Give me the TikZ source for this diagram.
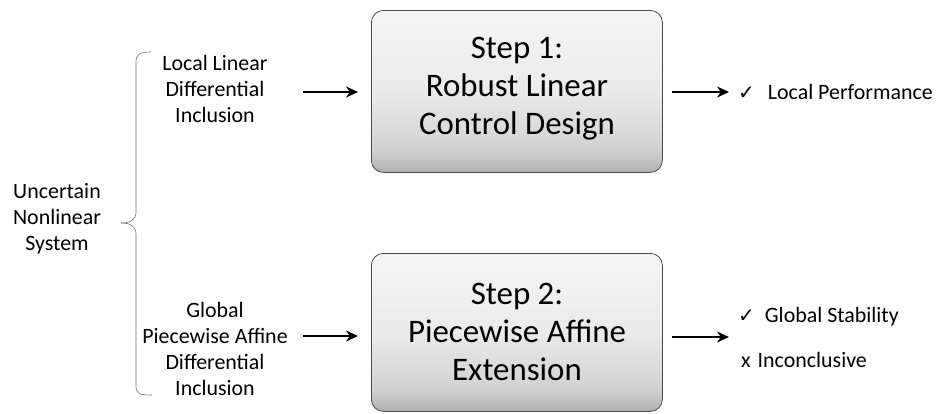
\documentclass[tikz,border=0pt]{standalone}
\usepackage{fontspec}
\setmainfont{Carlito}
\newfontfamily\symfont{DejaVu Sans}
\usetikzlibrary{arrows.meta}
\pgfdeclareverticalshading{stepshade}{100bp}{
  color(0bp)=(black!50); color(20bp)=(black!40); color(32bp)=(black!18); color(50bp)=(black!8); color(75bp)=(black!4); color(100bp)=(white)}
\begin{document}
\begin{tikzpicture}[x=1bp,y=-1bp,
  small/.style={font=\fontsize{22}{26}\selectfont, align=center, inner sep=0pt},
  big/.style={font=\fontsize{33}{38}\selectfont, align=center, inner sep=0pt},
  stepbox/.style={draw=black!70, line width=0.8pt, rounded corners=12bp, shading=stepshade},
  arr/.style={line width=2.4pt, -{Stealth[length=12bp,width=11bp]}},
  bracecol/.style={draw=black!55, line width=0.6pt}
]
\useasboundingbox (0,0) rectangle (937,413);
% boxes
\node[stepbox, minimum width=291bp, minimum height=162bp, anchor=north west] (b1) at (371,10) {};
\node[stepbox, minimum width=291bp, minimum height=158bp, anchor=north west] (b2) at (371,253) {};
\node[big] (t1) at (517,89) {Step 1:\\Robust Linear\\Control Design};
\node[big] (t2) at (517,332) {Step 2:\\Piecewise Affine\\Extension};
% left
\node[small] (unc) at (57,219) {Uncertain\\Nonlinear\\System};
\node[small] (lldi) at (215,89) {Local Linear\\Differential\\Inclusion};
\node[small] (gpdi) at (215,349) {Global\\Piecewise Affine\\Differential\\Inclusion};
% brace
\coordinate (btop) at (151,52);
\coordinate (bbot) at (152,395);
\coordinate (btip) at (121,223);
\draw[bracecol] (btop) .. controls (140,52) and (136,54) .. (136,62) -- (136,212) .. controls (136,220) and (130,223) .. (btip);
\draw[bracecol] (btip) .. controls (130,223) and (136,226) .. (136,234) -- (136,386) .. controls (136,394) and (140,395) .. (bbot);
% arrows
\coordinate (a1s) at (303,92);
\coordinate (a1e) at (358,92);
\coordinate (a2s) at (303,336);
\coordinate (a2e) at (358,336);
\draw[arr] (a1s) -- (a1e);
\draw[arr] (a2s) -- (a2e);
\coordinate (r1s) at (672,92);
\coordinate (r1e) at (729,92);
\coordinate (r2s) at (672,337);
\coordinate (r2e) at (729,337);
\draw[arr] (r1s) -- (r1e);
\draw[arr] (r2s) -- (r2e);
% right texts
\node[small, anchor=west] (lp) at (738,92) {{\symfont\fontsize{20}{24}\selectfont ✓}\hspace{13bp}Local Performance};
\node[small, anchor=west] (gs) at (738,317) {{\symfont\fontsize{20}{24}\selectfont ✓}\hspace{10bp}Global Stability};
\node[small, anchor=west] (inc) at (741,360) {x\hspace{7bp}Inconclusive};
\end{tikzpicture}
\end{document}
